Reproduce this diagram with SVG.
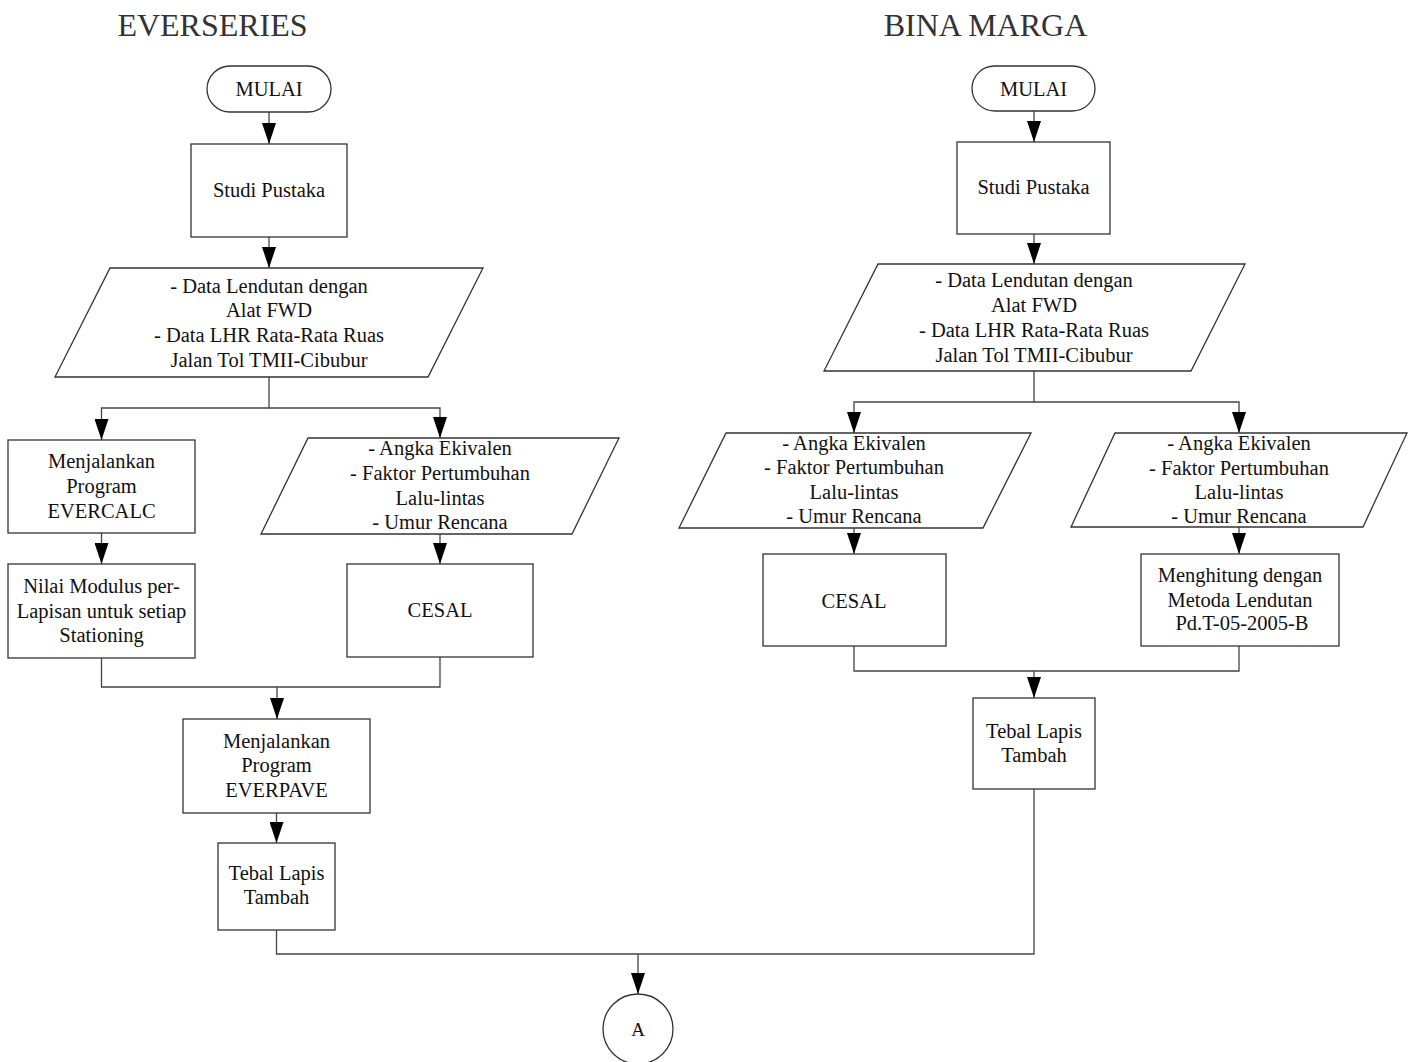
<svg xmlns="http://www.w3.org/2000/svg" width="1414" height="1062" viewBox="0 0 1414 1062">
<defs>
<style>
.shape{fill:#fff;stroke:#333;stroke-width:1.3}
.t{font-family:"Liberation Serif","Times New Roman",serif;font-size:20.5px;fill:#111;text-anchor:middle}
.title{font-family:"Liberation Serif","Times New Roman",serif;font-size:32px;fill:#333;text-anchor:middle}
.c{fill:none;stroke:#444;stroke-width:1.3}
.ca{fill:none;stroke:#444;stroke-width:1.3;marker-end:url(#ah)}
</style>
<marker id="ah" viewBox="0 0 21 14" markerWidth="21" markerHeight="14" refX="21" refY="7" orient="auto" markerUnits="userSpaceOnUse">
<path d="M0,0 L21,7 L0,14 z" fill="#000"/>
</marker>
</defs>
<rect width="1414" height="1062" fill="#fff"/>

<g id="title-everseries"><text class="title" x="212.5" y="36">EVERSERIES</text></g>
<g id="title-binamarga"><text class="title" x="985.5" y="36">BINA MARGA</text></g>

<g id="connectors">
<path class="ca" d="M269,112 V144"/>
<path class="ca" d="M269,237 V268"/>
<path class="ca" d="M269,377 V408 H101.5 V440"/>
<path class="ca" d="M269,408 H440 V438"/>
<path class="ca" d="M101.5,533 V564"/>
<path class="ca" d="M440,534 V564"/>
<path class="c" d="M101.5,658 V687 H440 V657"/>
<path class="ca" d="M277,687 V719"/>
<path class="ca" d="M276.5,813 V843"/>
<path class="c" d="M276.5,930 V954 H1034 V789"/>
<path class="ca" d="M638,954 V994"/>
<path class="ca" d="M1034,111 V142"/>
<path class="ca" d="M1034,234 V264"/>
<path class="ca" d="M1034,371 V402 H854 V433"/>
<path class="ca" d="M1034,402 H1239 V433"/>
<path class="ca" d="M854,528 V554"/>
<path class="ca" d="M1239,527 V554"/>
<path class="c" d="M854,646 V671 H1239 V646"/>
<path class="ca" d="M1034,671 V698"/>
</g>

<g id="es-mulai"><rect class="shape" x="207" y="66" width="124" height="46" rx="23"/><text class="t" x="269" y="96">MULAI</text></g>
<g id="es-studi"><rect class="shape" x="191" y="144" width="156" height="93"/><text class="t" x="269" y="197">Studi Pustaka</text></g>
<g id="es-data"><polygon class="shape" points="110,268 483,268 428,377 55,377"/>
<text class="t" x="269" y="293">- Data Lendutan dengan</text>
<text class="t" x="269" y="317">Alat FWD</text>
<text class="t" x="269" y="342">- Data LHR Rata-Rata Ruas</text>
<text class="t" x="269" y="367">Jalan Tol TMII-Cibubur</text></g>
<g id="es-evercalc"><rect class="shape" x="8" y="440" width="187" height="93"/>
<text class="t" x="101.5" y="468">Menjalankan</text>
<text class="t" x="101.5" y="493">Program</text>
<text class="t" x="101.5" y="518">EVERCALC</text></g>
<g id="es-modulus"><rect class="shape" x="8" y="564" width="187" height="94"/>
<text class="t" x="101.5" y="593">Nilai Modulus per-</text>
<text class="t" x="101.5" y="618">Lapisan untuk setiap</text>
<text class="t" x="101.5" y="642">Stationing</text></g>
<g id="es-angka"><polygon class="shape" points="308,438 619,438 572,534 261,534"/>
<text class="t" x="440" y="455">- Angka Ekivalen</text>
<text class="t" x="440" y="480">- Faktor Pertumbuhan</text>
<text class="t" x="440" y="505">Lalu-lintas</text>
<text class="t" x="440" y="529">- Umur Rencana</text></g>
<g id="es-cesal"><rect class="shape" x="347" y="564" width="186" height="93"/><text class="t" x="440" y="617">CESAL</text></g>
<g id="es-everpave"><rect class="shape" x="183" y="719" width="187" height="94"/>
<text class="t" x="276.5" y="748">Menjalankan</text>
<text class="t" x="276.5" y="772">Program</text>
<text class="t" x="276.5" y="797">EVERPAVE</text></g>
<g id="es-tebal"><rect class="shape" x="218" y="843" width="117" height="87"/>
<text class="t" x="276.5" y="880">Tebal Lapis</text>
<text class="t" x="276.5" y="904">Tambah</text></g>
<g id="connector-a"><circle class="shape" cx="638" cy="1029" r="35"/><text class="t" x="638" y="1036" style="font-size:19px">A</text></g>

<g id="bm-mulai"><rect class="shape" x="972" y="66" width="123" height="45" rx="22.5"/><text class="t" x="1033.5" y="96">MULAI</text></g>
<g id="bm-studi"><rect class="shape" x="957" y="142" width="153" height="92"/><text class="t" x="1033.5" y="194">Studi Pustaka</text></g>
<g id="bm-data"><polygon class="shape" points="878,264 1245,264 1191,371 824,371"/>
<text class="t" x="1034" y="287">- Data Lendutan dengan</text>
<text class="t" x="1034" y="312">Alat FWD</text>
<text class="t" x="1034" y="337">- Data LHR Rata-Rata Ruas</text>
<text class="t" x="1034" y="362">Jalan Tol TMII-Cibubur</text></g>
<g id="bm-angka-1"><polygon class="shape" points="726,433 1031,433 983,528 679,528"/>
<text class="t" x="854" y="450">- Angka Ekivalen</text>
<text class="t" x="854" y="474">- Faktor Pertumbuhan</text>
<text class="t" x="854" y="499">Lalu-lintas</text>
<text class="t" x="854" y="523">- Umur Rencana</text></g>
<g id="bm-angka-2"><polygon class="shape" points="1115,433 1407,433 1363,527 1071,527"/>
<text class="t" x="1239" y="450">- Angka Ekivalen</text>
<text class="t" x="1239" y="475">- Faktor Pertumbuhan</text>
<text class="t" x="1239" y="499">Lalu-lintas</text>
<text class="t" x="1239" y="523">- Umur Rencana</text></g>
<g id="bm-cesal"><rect class="shape" x="763" y="554" width="183" height="92"/><text class="t" x="854" y="608">CESAL</text></g>
<g id="bm-menghitung"><rect class="shape" x="1141" y="554" width="198" height="92"/>
<text class="t" x="1240" y="582">Menghitung dengan</text>
<text class="t" x="1240" y="607">Metoda Lendutan</text>
<text class="t" x="1242" y="630">Pd.T-05-2005-B</text></g>
<g id="bm-tebal"><rect class="shape" x="973" y="698" width="122" height="91"/>
<text class="t" x="1034" y="738">Tebal Lapis</text>
<text class="t" x="1034" y="762">Tambah</text></g>
</svg>
